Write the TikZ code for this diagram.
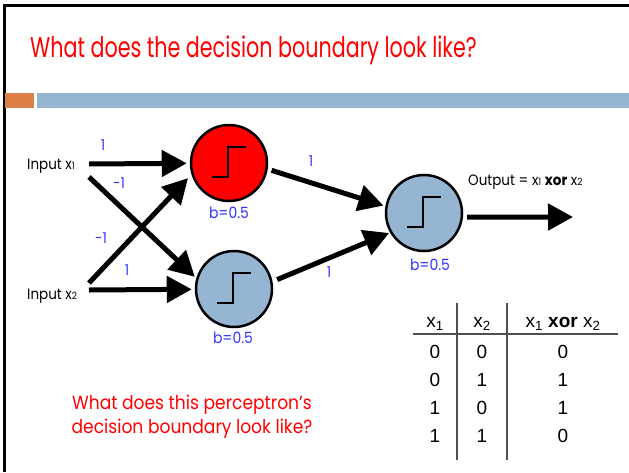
\documentclass[tikz,border=0pt]{standalone}
\usepackage{fontspec}
\setmainfont{Liberation Sans}
\newfontfamily\geotitle[FakeStretch=0.725]{Poppins}
\newfontfamily\geo[FakeStretch=0.9]{Poppins}
\usetikzlibrary{arrows.meta}
\definecolor{slidered}{RGB}{255,0,0}
\definecolor{wblue}{RGB}{51,51,255}
\definecolor{unitblue}{RGB}{149,181,210}
\definecolor{accent}{RGB}{221,128,71}
\definecolor{rulegray}{RGB}{80,80,80}
\newcommand{\sm}[1]{{\fontsize{10}{10}\selectfont #1}}

\begin{document}
\begin{tikzpicture}[x=1pt,y=-1pt,
  neuron/.style={circle,draw=black,line width=2.5pt,minimum size=76pt,inner sep=0pt},
  link/.style={line width=5pt,-{Triangle[length=25pt,width=26pt]}},
  weight/.style={text=wblue,font=\geo\fontsize{15}{17}\selectfont,inner sep=0pt},
  bias/.style={text=wblue,font=\geo\fontsize{15.5}{17}\selectfont,inner sep=0pt},
  lbl/.style={font=\geo\fontsize{15}{17}\selectfont,inner sep=0pt,anchor=base west},
  cell/.style={font=\fontsize{19}{21}\selectfont,inner sep=0pt,anchor=base},
  stepline/.style={line width=2.5pt},
  tablerule/.style={draw=rulegray,line width=1.3pt}
]
\useasboundingbox (0,0) rectangle (629,472);
\fill[white] (0,0) rectangle (629,472);

% slide frame
\draw[line width=2.5pt] (4.5,472) -- (4.5,5.5) -- (629,5.5);

% title and header bars
\node[anchor=base west,inner sep=0pt,text=slidered,font=\geotitle\fontsize{28.5}{30}\selectfont] (title) at (30,57) {What does the decision boundary look like?};
\fill[accent] (5,93) rectangle (34,108);
\fill[unitblue] (37,93) rectangle (629,108);

% inputs
\node[lbl] (x1) at (27,169) {Input x\sm{1}};
\node[lbl] (x2) at (27,299) {Input x\sm{2}};
\coordinate (x1a) at (89,164);
\coordinate (x1b) at (89,177);
\coordinate (x2a) at (89,283);
\coordinate (x2b) at (89,290);

% neurons
\node[neuron,fill=slidered] (h1) at (229,163) {};
\node[neuron,fill=unitblue] (h2) at (234,289) {};
\node[neuron,fill=unitblue] (o) at (424,213) {};
\foreach \n in {h1,h2,o}
  \draw[stepline] ([shift={(-17,14)}]\n.center) -- ++(16,0) -- ++(0,-30) -- ++(18,0);

\node[bias] (b1) at (229,213) {b=0.5};
\node[bias] (b2) at (233,338) {b=0.5};
\node[bias] (bo) at (430,265) {b=0.5};

% connections
\draw[link,shorten >=3pt] (x1a) -- (h1);
\draw[link,shorten >=2pt] (x1b) -- (h2.164);
\draw[link,shorten >=5pt] (x2a) -- (h1.197);
\draw[link,shorten >=3pt] (x2b) -- (h2);
\draw[link,shorten <=4pt,shorten >=2pt] (h1.-9) -- (o.170);
\draw[link,shorten <=5pt,shorten >=1pt] (h2.11) -- (o.210);
\coordinate (yend) at (573,217);
\draw[link,shorten <=4pt] (o.-6) -- (yend);

% weights
\node[weight] (w11) at (103,145) {1};
\node[weight] (w12) at (119,183) {-1};
\node[weight] (w21) at (101,238) {-1};
\node[weight] (w22) at (127,270) {1};
\node[weight] (v1) at (311,161) {1};
\node[weight] (v2) at (329,272) {1};

\node[lbl] (outlbl) at (468,185) {Output = x\sm{1} \textbf{xor} x\sm{2}};

% truth table
\node[cell] (hx1) at (435,327) {x\textsubscript{1}};
\node[cell] (hx2) at (482,327) {x\textsubscript{2}};
\node[cell] (hxor) at (563,327) {x\textsubscript{1} \textbf{xor} x\textsubscript{2}};
\foreach \a/\b/\c [count=\r] in {0/0/0,0/1/1,1/0/1,1/1/0}{
  \node[cell] (a\r) at (435,330.5+28*\r) {\a};
  \node[cell] (b\r) at (482,330.5+28*\r) {\b};
  \node[cell] (c\r) at (563,330.5+28*\r) {\c};
}
\draw[tablerule] (413,334) -- (618,334);
\draw[tablerule] (457,303) -- (457,460);
\draw[tablerule] (507,303) -- (507,460);

% question
\node[text=slidered,font=\geo\fontsize{19}{23.5}\selectfont,align=center,inner sep=0pt,anchor=base] (q) at (192,433) {What does this perceptron’s\\decision boundary look like?};
\end{tikzpicture}
\end{document}
